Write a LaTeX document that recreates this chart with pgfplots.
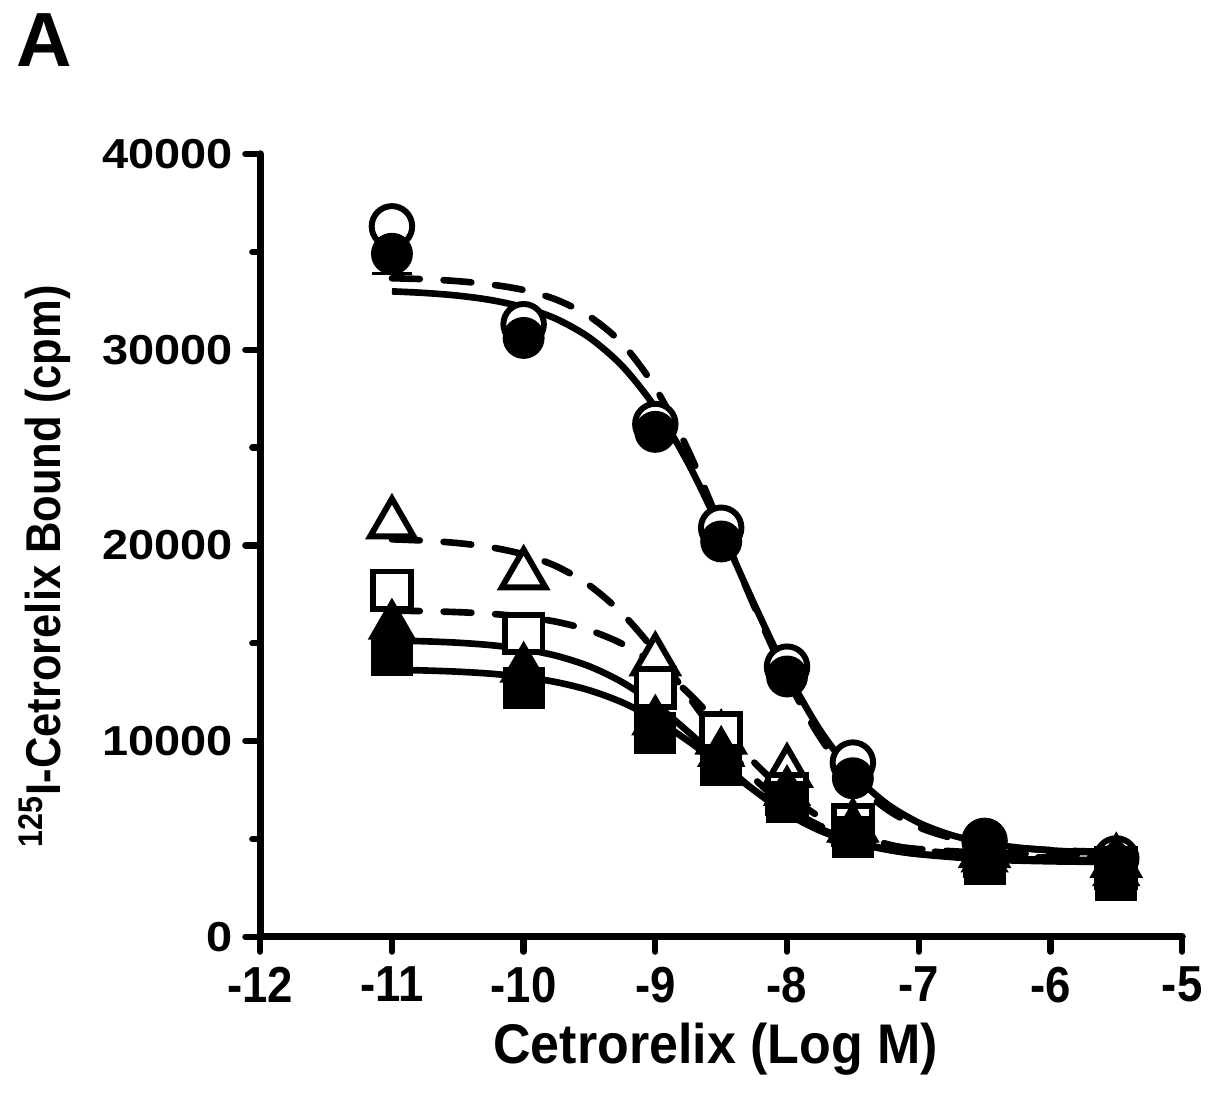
\documentclass[border=0pt]{standalone}
\usepackage{pgfplots}
\pgfplotsset{compat=1.18}
\usepackage{fontspec}
\setmainfont{Liberation Sans}
\usepackage{graphicx}

\newcommand{\yt}[1]{\scalebox{1.12}[1]{#1}}
\newcommand{\xt}[1]{\scalebox{0.9}[1]{#1}}
\tikzset{
  fitline/.style={black, line width=1.9pt, smooth, no markers},
  fitdash/.style={fitline, dash pattern=on 2.8mm off 2.4mm, line cap=round},
  openmk/.style={only marks, mark options={draw=black, fill=white, line width=1.7pt}},
  fullmk/.style={only marks, mark options={draw=black, fill=black, line width=0.8pt}},
}

\begin{document}
\begin{tikzpicture}
\begin{axis}[
  scale only axis, width=92.8mm, height=78.8mm,
  xmin=-12, xmax=-5, ymin=0, ymax=40000,
  clip=false,
  axis lines=left,
  axis line style={-, line width=2.1pt, line cap=round},
  tick align=outside,
  xtick={-12,-11,-10,-9,-8,-7,-6,-5},
  xticklabels={\xt{-12},\xt{-11},\xt{-10},\xt{-9},\xt{-8},\xt{-7},\xt{-6},\xt{-5}},
  ytick={0,10000,20000,30000,40000},
  yticklabels={\yt{0},\yt{10000},\yt{20000},\yt{30000},\yt{40000}},
  minor y tick num=1,
  scaled y ticks=false,
  major tick length=1.5mm, minor tick length=0.8mm,
  every tick/.style={black, line width=1.8pt, line cap=round},
  xticklabel style={font=\bfseries\fontsize{14.5}{14.5}\selectfont, yshift=-0.3mm},
  yticklabel style={font=\bfseries\fontsize{12}{12}\selectfont},
  xlabel={\scalebox{0.93}[1]{Cetrorelix (Log M)}},
  xlabel style={font=\bfseries\fontsize{16}{16}\selectfont,
    at={(axis description cs:0.494,-0.143)}, anchor=center},
  ylabel={\scalebox{0.89}[1]{\textsuperscript{125}I-Cetrorelix Bound (cpm)}},
  ylabel style={font=\bfseries\fontsize{14}{14}\selectfont,
    at={(axis description cs:-0.234,0.473)}, anchor=center},
]
\path (axis description cs:-0.2823,-0.1992) rectangle (axis description cs:1.0259,1.1967);
\node[font=\bfseries\fontsize{22}{22}\selectfont] at (axis description cs:-0.234,1.146) {A};

% fitted curves, filled circles (solid) and open circles (dashed)
\addplot[fitline] coordinates {
  (-11,32979) (-10.75,32897) (-10.5,32761) (-10.25,32536) (-10,32165)
  (-9.75,31565) (-9.5,30612) (-9.25,29155) (-9,27037) (-8.75,24190)
  (-8.5,20731) (-8.25,17011) (-8,13495) (-7.75,10566) (-7.5,8362)
  (-7.25,6833) (-7,5828) (-6.75,5192) (-6.5,4799) (-6.25,4560)
  (-6,4416) (-5.75,4329) (-5.5,4277)};
\addplot[fitdash] coordinates {
  (-11,33650) (-10.75,33600) (-10.5,33500) (-10.25,33330) (-10,33050)
  (-9.75,32550) (-9.5,31700) (-9.25,30300) (-9,28050) (-8.75,24850)
  (-8.5,20900) (-8.25,16900) (-8,13200) (-7.75,10200) (-7.5,8000)
  (-7.25,6550) (-7,5600) (-6.75,5050) (-6.5,4720) (-6.25,4540)
  (-6,4430) (-5.75,4370) (-5.5,4340)};
% open triangles (dashed)
\addplot[fitdash] coordinates {
  (-11,20309) (-10.75,20240) (-10.5,20117) (-10.25,19903) (-10,19538)
  (-9.75,18927) (-9.5,17954) (-9.25,16508) (-9,14570) (-8.75,12300)
  (-8.5,10030) (-8.25,8092) (-8,6646) (-7.75,5673) (-7.5,5062)
  (-7.25,4697) (-7,4483) (-6.5,4291) (-6,4229) (-5.5,4209)};
% open squares (dashed)
\addplot[fitdash] coordinates {
  (-11,16664) (-10.75,16637) (-10.5,16588) (-10.25,16502) (-10,16352)
  (-9.75,16094) (-9.5,15661) (-9.25,14963) (-9,13907) (-8.75,12459)
  (-8.5,10715) (-8.25,8913) (-8,7326) (-7.75,6112) (-7.5,5281)
  (-7.25,4754) (-7,4435) (-6.5,4141) (-6,4045) (-5.5,4014)};
% filled triangles (solid)
\addplot[fitline] coordinates {
  (-11,15141) (-10.75,15098) (-10.5,15026) (-10.25,14902) (-10,14695)
  (-9.75,14355) (-9.5,13816) (-9.25,13003) (-9,11875) (-8.75,10468)
  (-8.5,8935) (-8.25,7487) (-8,6297) (-7.75,5423) (-7.5,4835)
  (-7.25,4460) (-7,4231) (-6.5,4013) (-6,3938) (-5.5,3913)};
% filled squares (solid)
\addplot[fitline] coordinates {
  (-11,13645) (-10.75,13607) (-10.5,13546) (-10.25,13443) (-10,13277)
  (-9.75,13009) (-9.5,12593) (-9.25,11973) (-9,11107) (-8.75,10004)
  (-8.5,8750) (-8.25,7496) (-8,6393) (-7.75,5527) (-7.5,4907)
  (-7.25,4490) (-7,4223) (-6.5,3954) (-6,3855) (-5.5,3820)};

% error bars at -11
\addplot[only marks, mark=none, black,
  error bars/.cd, y dir=minus, y explicit,
  error bar style={line width=0.7pt},
  error mark options={rotate=90, mark size=2mm, line width=0.7pt}]
  coordinates {(-11,36300) -= (0,500) (-11,34900) -= (0,1000)};

% open symbols
\addplot[openmk, mark=*, mark size=5.8pt] coordinates {
  (-11,36300) (-10,31300) (-9,26200) (-8.5,20900) (-8,13800)
  (-7.5,8900) (-6.5,4900) (-5.5,4000)};
\addplot[openmk, mark=triangle*, mark size=7.2pt] coordinates {
  (-11,21100) (-10,18500) (-9,14100) (-8.5,10100) (-8,8400)
  (-7.5,5600) (-6.5,4300) (-5.5,3800)};
\addplot[openmk, mark=square*, mark size=5.4pt] coordinates {
  (-11,17700) (-10,15500) (-9,12700) (-8.5,10400) (-8,7300)
  (-7.5,5700) (-6.5,4100) (-5.5,3500)};

% filled symbols
\addplot[fullmk, mark=*, mark size=5.6pt] coordinates {
  (-11,34900) (-10,30600) (-9,25800) (-8.5,20200) (-8,13300)
  (-7.5,8100) (-6.5,4800) (-5.5,3700)};
\addplot[fullmk, mark=triangle*, mark size=7.2pt] coordinates {
  (-11,15900) (-10,13700) (-9,11000) (-8.5,9400) (-8,7400)
  (-7.5,5500) (-6.5,4000) (-5.5,3300)};
\addplot[fullmk, mark=square*, mark size=5.6pt] coordinates {
  (-11,14400) (-10,12700) (-9,10400) (-8.5,8800) (-8,6900)
  (-7.5,5100) (-6.5,3700) (-5.5,2900)};
\end{axis}
\end{tikzpicture}
\end{document}
